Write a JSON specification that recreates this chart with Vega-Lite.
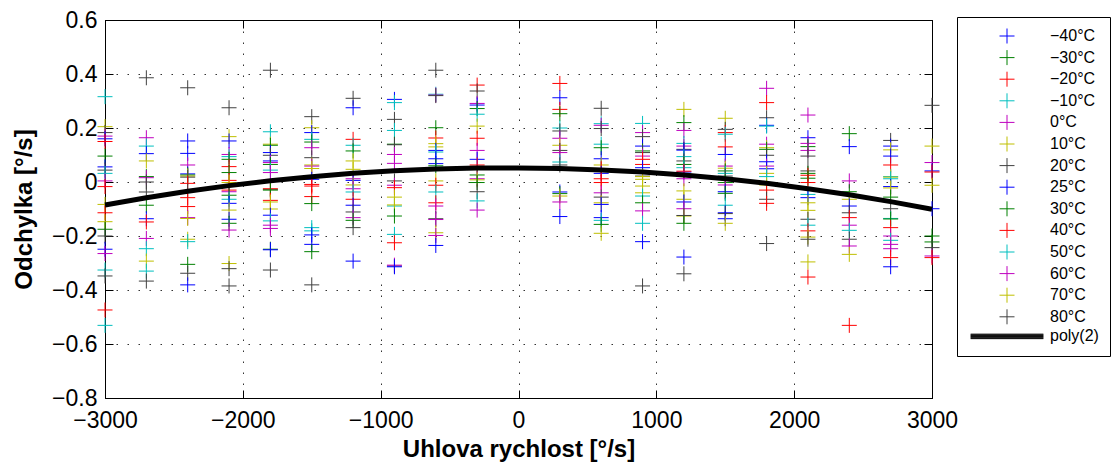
{
"$schema": "https://vega.github.io/schema/vega-lite/v6.json",
"autosize": "none",
"width": 827,
"height": 378,
"padding": {"left": 105, "top": 20, "right": 188, "bottom": 68},
"background": "white",
"config": {
  "view": {"stroke": "black", "strokeWidth": 1},
  "font": "Liberation Sans",
  "axis": {
    "domainColor": "black", "tickColor": "black", "tickSize": -8, "tickWidth": 1,
    "labelFont": "Liberation Sans", "labelFontSize": 23, "labelColor": "black",
    "titleFont": "Liberation Sans", "titleFontSize": 24, "titleFontWeight": "bold", "titleColor": "black",
    "gridColor": "#333333", "gridDash": [1.5, 9.5], "gridWidth": 1, "gridOpacity": 1,
    "labelFlush": false, "labelOverlap": false
  }
},
"datasets": {
  "pts": [
{"x":-3000,"y":0.316,"t":"−10°C"},{"x":-3000,"y":0.205,"t":"10°C"},{"x":-3000,"y":0.183,"t":"20°C"},{"x":-3000,"y":0.17,"t":"0°C"},{"x":-3000,"y":0.16,"t":"−40°C"},{"x":-3000,"y":0.15,"t":"−20°C"},{"x":-3000,"y":0.096,"t":"−30°C"},{"x":-3000,"y":0.056,"t":"25°C"},{"x":-3000,"y":0.044,"t":"80°C"},{"x":-3000,"y":0.032,"t":"50°C"},{"x":-3000,"y":0.004,"t":"60°C"},{"x":-3000,"y":-0.017,"t":"40°C"},{"x":-3000,"y":-0.083,"t":"70°C"},{"x":-3000,"y":-0.114,"t":"−20°C"},{"x":-3000,"y":-0.147,"t":"10°C"},{"x":-3000,"y":-0.175,"t":"30°C"},{"x":-3000,"y":-0.2,"t":"20°C"},{"x":-3000,"y":-0.249,"t":"−40°C"},{"x":-3000,"y":-0.265,"t":"0°C"},{"x":-3000,"y":-0.326,"t":"−10°C"},{"x":-3000,"y":-0.348,"t":"80°C"},{"x":-3000,"y":-0.474,"t":"40°C"},{"x":-3000,"y":-0.531,"t":"50°C"},
{"x":-2700,"y":0.386,"t":"20°C"},{"x":-2700,"y":0.164,"t":"0°C"},{"x":-2700,"y":0.133,"t":"−10°C"},{"x":-2700,"y":0.105,"t":"−40°C"},{"x":-2700,"y":0.078,"t":"10°C"},{"x":-2700,"y":0.02,"t":"−30°C"},{"x":-2700,"y":0.016,"t":"60°C"},{"x":-2700,"y":0.0,"t":"80°C"},{"x":-2700,"y":-0.037,"t":"20°C"},{"x":-2700,"y":-0.086,"t":"30°C"},{"x":-2700,"y":-0.136,"t":"25°C"},{"x":-2700,"y":-0.148,"t":"−20°C"},{"x":-2700,"y":-0.209,"t":"0°C"},{"x":-2700,"y":-0.247,"t":"50°C"},{"x":-2700,"y":-0.293,"t":"70°C"},{"x":-2700,"y":-0.33,"t":"−10°C"},{"x":-2700,"y":-0.367,"t":"80°C"},
{"x":-2400,"y":0.349,"t":"20°C"},{"x":-2400,"y":0.152,"t":"−40°C"},{"x":-2400,"y":0.106,"t":"25°C"},{"x":-2400,"y":0.063,"t":"0°C"},{"x":-2400,"y":0.03,"t":"−40°C"},{"x":-2400,"y":0.026,"t":"−30°C"},{"x":-2400,"y":0.022,"t":"10°C"},{"x":-2400,"y":0.018,"t":"80°C"},{"x":-2400,"y":-0.005,"t":"−20°C"},{"x":-2400,"y":-0.033,"t":"20°C"},{"x":-2400,"y":-0.058,"t":"40°C"},{"x":-2400,"y":-0.091,"t":"−20°C"},{"x":-2400,"y":-0.132,"t":"60°C"},{"x":-2400,"y":-0.135,"t":"70°C"},{"x":-2400,"y":-0.212,"t":"10°C"},{"x":-2400,"y":-0.221,"t":"−10°C"},{"x":-2400,"y":-0.305,"t":"30°C"},{"x":-2400,"y":-0.338,"t":"80°C"},{"x":-2400,"y":-0.381,"t":"25°C"},
{"x":-2100,"y":0.275,"t":"20°C"},{"x":-2100,"y":0.168,"t":"10°C"},{"x":-2100,"y":0.152,"t":"−40°C"},{"x":-2100,"y":0.102,"t":"0°C"},{"x":-2100,"y":0.094,"t":"−10°C"},{"x":-2100,"y":0.084,"t":"−30°C"},{"x":-2100,"y":0.057,"t":"−20°C"},{"x":-2100,"y":0.035,"t":"30°C"},{"x":-2100,"y":0.006,"t":"40°C"},{"x":-2100,"y":-0.002,"t":"70°C"},{"x":-2100,"y":-0.03,"t":"−20°C"},{"x":-2100,"y":-0.036,"t":"60°C"},{"x":-2100,"y":-0.049,"t":"−30°C"},{"x":-2100,"y":-0.064,"t":"50°C"},{"x":-2100,"y":-0.079,"t":"25°C"},{"x":-2100,"y":-0.104,"t":"10°C"},{"x":-2100,"y":-0.138,"t":"−40°C"},{"x":-2100,"y":-0.153,"t":"30°C"},{"x":-2100,"y":-0.178,"t":"0°C"},{"x":-2100,"y":-0.302,"t":"70°C"},{"x":-2100,"y":-0.321,"t":"80°C"},{"x":-2100,"y":-0.385,"t":"20°C"},
{"x":-1800,"y":0.414,"t":"20°C"},{"x":-1800,"y":0.186,"t":"−10°C"},{"x":-1800,"y":0.14,"t":"10°C"},{"x":-1800,"y":0.136,"t":"−30°C"},{"x":-1800,"y":0.109,"t":"−40°C"},{"x":-1800,"y":0.099,"t":"80°C"},{"x":-1800,"y":0.078,"t":"25°C"},{"x":-1800,"y":0.072,"t":"0°C"},{"x":-1800,"y":0.065,"t":"30°C"},{"x":-1800,"y":0.044,"t":"50°C"},{"x":-1800,"y":0.035,"t":"60°C"},{"x":-1800,"y":-0.027,"t":"20°C"},{"x":-1800,"y":-0.025,"t":"−20°C"},{"x":-1800,"y":-0.03,"t":"−30°C"},{"x":-1800,"y":-0.068,"t":"40°C"},{"x":-1800,"y":-0.074,"t":"70°C"},{"x":-1800,"y":-0.1,"t":"10°C"},{"x":-1800,"y":-0.123,"t":"−40°C"},{"x":-1800,"y":-0.144,"t":"−10°C"},{"x":-1800,"y":-0.16,"t":"0°C"},{"x":-1800,"y":-0.172,"t":"60°C"},{"x":-1800,"y":-0.249,"t":"30°C"},{"x":-1800,"y":-0.251,"t":"25°C"},{"x":-1800,"y":-0.326,"t":"80°C"},
{"x":-1500,"y":0.242,"t":"20°C"},{"x":-1500,"y":0.201,"t":"10°C"},{"x":-1500,"y":0.183,"t":"−40°C"},{"x":-1500,"y":0.158,"t":"−10°C"},{"x":-1500,"y":0.148,"t":"−30°C"},{"x":-1500,"y":0.127,"t":"0°C"},{"x":-1500,"y":0.09,"t":"80°C"},{"x":-1500,"y":0.063,"t":"70°C"},{"x":-1500,"y":0.059,"t":"60°C"},{"x":-1500,"y":0.05,"t":"10°C"},{"x":-1500,"y":0.01,"t":"25°C"},{"x":-1500,"y":-0.009,"t":"−20°C"},{"x":-1500,"y":-0.015,"t":"40°C"},{"x":-1500,"y":-0.054,"t":"−20°C"},{"x":-1500,"y":-0.08,"t":"30°C"},{"x":-1500,"y":-0.169,"t":"50°C"},{"x":-1500,"y":-0.181,"t":"−10°C"},{"x":-1500,"y":-0.196,"t":"−40°C"},{"x":-1500,"y":-0.231,"t":"25°C"},{"x":-1500,"y":-0.258,"t":"−30°C"},{"x":-1500,"y":-0.381,"t":"20°C"},
{"x":-1200,"y":0.31,"t":"20°C"},{"x":-1200,"y":0.275,"t":"−40°C"},{"x":-1200,"y":0.158,"t":"−20°C"},{"x":-1200,"y":0.136,"t":"−10°C"},{"x":-1200,"y":0.115,"t":"−30°C"},{"x":-1200,"y":0.078,"t":"10°C"},{"x":-1200,"y":0.047,"t":"70°C"},{"x":-1200,"y":0.012,"t":"0°C"},{"x":-1200,"y":0.006,"t":"25°C"},{"x":-1200,"y":-0.011,"t":"10°C"},{"x":-1200,"y":-0.025,"t":"60°C"},{"x":-1200,"y":-0.037,"t":"50°C"},{"x":-1200,"y":-0.064,"t":"40°C"},{"x":-1200,"y":-0.086,"t":"−40°C"},{"x":-1200,"y":-0.111,"t":"80°C"},{"x":-1200,"y":-0.132,"t":"0°C"},{"x":-1200,"y":-0.142,"t":"30°C"},{"x":-1200,"y":-0.169,"t":"20°C"},{"x":-1200,"y":-0.293,"t":"25°C"},
{"x":-900,"y":0.306,"t":"−40°C"},{"x":-900,"y":0.294,"t":"−10°C"},{"x":-900,"y":0.232,"t":"20°C"},{"x":-900,"y":0.191,"t":"50°C"},{"x":-900,"y":0.14,"t":"−30°C"},{"x":-900,"y":0.138,"t":"80°C"},{"x":-900,"y":0.102,"t":"0°C"},{"x":-900,"y":0.069,"t":"60°C"},{"x":-900,"y":0.004,"t":"20°C"},{"x":-900,"y":-0.012,"t":"0°C"},{"x":-900,"y":-0.021,"t":"−20°C"},{"x":-900,"y":-0.056,"t":"10°C"},{"x":-900,"y":-0.089,"t":"−10°C"},{"x":-900,"y":-0.085,"t":"70°C"},{"x":-900,"y":-0.126,"t":"30°C"},{"x":-900,"y":-0.194,"t":"50°C"},{"x":-900,"y":-0.225,"t":"40°C"},{"x":-900,"y":-0.311,"t":"80°C"},{"x":-900,"y":-0.308,"t":"60°C"},{"x":-900,"y":-0.314,"t":"25°C"},
{"x":-600,"y":0.414,"t":"20°C"},{"x":-600,"y":0.325,"t":"−10°C"},{"x":-600,"y":0.322,"t":"0°C"},{"x":-600,"y":0.32,"t":"80°C"},{"x":-600,"y":0.201,"t":"−30°C"},{"x":-600,"y":0.163,"t":"−20°C"},{"x":-600,"y":0.142,"t":"10°C"},{"x":-600,"y":0.13,"t":"70°C"},{"x":-600,"y":0.117,"t":"−40°C"},{"x":-600,"y":0.111,"t":"50°C"},{"x":-600,"y":0.086,"t":"25°C"},{"x":-600,"y":0.068,"t":"−40°C"},{"x":-600,"y":0.06,"t":"30°C"},{"x":-600,"y":0.004,"t":"10°C"},{"x":-600,"y":-0.012,"t":"40°C"},{"x":-600,"y":-0.037,"t":"−10°C"},{"x":-600,"y":-0.077,"t":"−20°C"},{"x":-600,"y":-0.089,"t":"60°C"},{"x":-600,"y":-0.136,"t":"20°C"},{"x":-600,"y":-0.139,"t":"0°C"},{"x":-600,"y":-0.188,"t":"70°C"},{"x":-600,"y":-0.198,"t":"60°C"},{"x":-600,"y":-0.235,"t":"25°C"},
{"x":-300,"y":0.359,"t":"−20°C"},{"x":-300,"y":0.337,"t":"20°C"},{"x":-300,"y":0.291,"t":"0°C"},{"x":-300,"y":0.285,"t":"−40°C"},{"x":-300,"y":0.272,"t":"−30°C"},{"x":-300,"y":0.251,"t":"−10°C"},{"x":-300,"y":0.207,"t":"10°C"},{"x":-300,"y":0.162,"t":"40°C"},{"x":-300,"y":0.117,"t":"60°C"},{"x":-300,"y":0.084,"t":"25°C"},{"x":-300,"y":0.063,"t":"−20°C"},{"x":-300,"y":0.026,"t":"30°C"},{"x":-300,"y":0.012,"t":"0°C"},{"x":-300,"y":0.008,"t":"70°C"},{"x":-300,"y":-0.002,"t":"−30°C"},{"x":-300,"y":-0.036,"t":"80°C"},{"x":-300,"y":-0.07,"t":"50°C"},{"x":-300,"y":-0.104,"t":"60°C"},
{"x":300,"y":0.365,"t":"−20°C"},{"x":300,"y":0.312,"t":"−40°C"},{"x":300,"y":0.269,"t":"40°C"},{"x":300,"y":0.253,"t":"−30°C"},{"x":300,"y":0.2,"t":"−10°C"},{"x":300,"y":0.189,"t":"20°C"},{"x":300,"y":0.162,"t":"0°C"},{"x":300,"y":0.136,"t":"10°C"},{"x":300,"y":0.117,"t":"80°C"},{"x":300,"y":0.109,"t":"60°C"},{"x":300,"y":0.074,"t":"50°C"},{"x":300,"y":0.063,"t":"20°C"},{"x":300,"y":-0.037,"t":"25°C"},{"x":300,"y":-0.043,"t":"30°C"},{"x":300,"y":-0.052,"t":"70°C"},{"x":300,"y":-0.074,"t":"0°C"},{"x":300,"y":-0.128,"t":"−40°C"},
{"x":600,"y":0.273,"t":"20°C"},{"x":600,"y":0.216,"t":"−10°C"},{"x":600,"y":0.21,"t":"0°C"},{"x":600,"y":0.198,"t":"80°C"},{"x":600,"y":0.14,"t":"50°C"},{"x":600,"y":0.127,"t":"−30°C"},{"x":600,"y":0.086,"t":"−40°C"},{"x":600,"y":0.063,"t":"10°C"},{"x":600,"y":0.049,"t":"−20°C"},{"x":600,"y":0.032,"t":"25°C"},{"x":600,"y":0.012,"t":"40°C"},{"x":600,"y":-0.002,"t":"−20°C"},{"x":600,"y":-0.04,"t":"60°C"},{"x":600,"y":-0.056,"t":"20°C"},{"x":600,"y":-0.077,"t":"70°C"},{"x":600,"y":-0.083,"t":"−40°C"},{"x":600,"y":-0.132,"t":"25°C"},{"x":600,"y":-0.142,"t":"−10°C"},{"x":600,"y":-0.157,"t":"30°C"},{"x":600,"y":-0.19,"t":"10°C"},
{"x":900,"y":0.217,"t":"−10°C"},{"x":900,"y":0.183,"t":"0°C"},{"x":900,"y":0.168,"t":"20°C"},{"x":900,"y":0.133,"t":"−40°C"},{"x":900,"y":0.115,"t":"−30°C"},{"x":900,"y":0.109,"t":"80°C"},{"x":900,"y":0.096,"t":"60°C"},{"x":900,"y":0.084,"t":"−20°C"},{"x":900,"y":0.065,"t":"40°C"},{"x":900,"y":0.053,"t":"25°C"},{"x":900,"y":0.022,"t":"20°C"},{"x":900,"y":0.02,"t":"10°C"},{"x":900,"y":0.01,"t":"70°C"},{"x":900,"y":-0.015,"t":"10°C"},{"x":900,"y":-0.04,"t":"70°C"},{"x":900,"y":-0.052,"t":"50°C"},{"x":900,"y":-0.077,"t":"30°C"},{"x":900,"y":-0.107,"t":"0°C"},{"x":900,"y":-0.153,"t":"−10°C"},{"x":900,"y":-0.221,"t":"−40°C"},{"x":900,"y":-0.385,"t":"80°C"},
{"x":1200,"y":0.269,"t":"10°C"},{"x":1200,"y":0.22,"t":"−30°C"},{"x":1200,"y":0.191,"t":"0°C"},{"x":1200,"y":0.143,"t":"−10°C"},{"x":1200,"y":0.133,"t":"60°C"},{"x":1200,"y":0.121,"t":"20°C"},{"x":1200,"y":0.118,"t":"−40°C"},{"x":1200,"y":0.094,"t":"50°C"},{"x":1200,"y":0.078,"t":"80°C"},{"x":1200,"y":0.065,"t":"30°C"},{"x":1200,"y":0.053,"t":"−10°C"},{"x":1200,"y":0.037,"t":"25°C"},{"x":1200,"y":0.04,"t":"−20°C"},{"x":1200,"y":0.012,"t":"0°C"},{"x":1200,"y":-0.033,"t":"70°C"},{"x":1200,"y":-0.064,"t":"10°C"},{"x":1200,"y":-0.074,"t":"−40°C"},{"x":1200,"y":-0.099,"t":"60°C"},{"x":1200,"y":-0.126,"t":"70°C"},{"x":1200,"y":-0.124,"t":"20°C"},{"x":1200,"y":-0.153,"t":"−30°C"},{"x":1200,"y":-0.278,"t":"25°C"},{"x":1200,"y":-0.34,"t":"80°C"},
{"x":1500,"y":0.236,"t":"10°C"},{"x":1500,"y":0.195,"t":"20°C"},{"x":1500,"y":0.183,"t":"−20°C"},{"x":1500,"y":0.177,"t":"−10°C"},{"x":1500,"y":0.13,"t":"40°C"},{"x":1500,"y":0.102,"t":"−40°C"},{"x":1500,"y":0.059,"t":"0°C"},{"x":1500,"y":0.051,"t":"70°C"},{"x":1500,"y":0.041,"t":"−30°C"},{"x":1500,"y":0.032,"t":"50°C"},{"x":1500,"y":0.022,"t":"80°C"},{"x":1500,"y":-0.002,"t":"30°C"},{"x":1500,"y":-0.011,"t":"60°C"},{"x":1500,"y":-0.036,"t":"25°C"},{"x":1500,"y":-0.042,"t":"−30°C"},{"x":1500,"y":-0.086,"t":"−10°C"},{"x":1500,"y":-0.114,"t":"−40°C"},{"x":1500,"y":-0.117,"t":"20°C"},{"x":1500,"y":-0.136,"t":"25°C"},{"x":1500,"y":-0.153,"t":"10°C"},
{"x":1800,"y":0.347,"t":"0°C"},{"x":1800,"y":0.294,"t":"−20°C"},{"x":1800,"y":0.238,"t":"20°C"},{"x":1800,"y":0.21,"t":"−40°C"},{"x":1800,"y":0.207,"t":"−10°C"},{"x":1800,"y":0.14,"t":"60°C"},{"x":1800,"y":0.127,"t":"10°C"},{"x":1800,"y":0.121,"t":"−30°C"},{"x":1800,"y":0.099,"t":"80°C"},{"x":1800,"y":0.075,"t":"25°C"},{"x":1800,"y":0.059,"t":"0°C"},{"x":1800,"y":0.049,"t":"−40°C"},{"x":1800,"y":0.032,"t":"70°C"},{"x":1800,"y":0.02,"t":"50°C"},{"x":1800,"y":-0.011,"t":"10°C"},{"x":1800,"y":-0.03,"t":"40°C"},{"x":1800,"y":-0.064,"t":"20°C"},{"x":1800,"y":-0.079,"t":"−20°C"},{"x":1800,"y":-0.228,"t":"80°C"},
{"x":2100,"y":0.248,"t":"0°C"},{"x":2100,"y":0.164,"t":"−40°C"},{"x":2100,"y":0.143,"t":"60°C"},{"x":2100,"y":0.131,"t":"−30°C"},{"x":2100,"y":0.117,"t":"0°C"},{"x":2100,"y":0.096,"t":"20°C"},{"x":2100,"y":0.041,"t":"80°C"},{"x":2100,"y":0.032,"t":"30°C"},{"x":2100,"y":0.025,"t":"−20°C"},{"x":2100,"y":0.014,"t":"−30°C"},{"x":2100,"y":-0.002,"t":"40°C"},{"x":2100,"y":-0.046,"t":"−10°C"},{"x":2100,"y":-0.058,"t":"25°C"},{"x":2100,"y":-0.077,"t":"10°C"},{"x":2100,"y":-0.105,"t":"70°C"},{"x":2100,"y":-0.138,"t":"20°C"},{"x":2100,"y":-0.16,"t":"50°C"},{"x":2100,"y":-0.181,"t":"−20°C"},{"x":2100,"y":-0.204,"t":"10°C"},{"x":2100,"y":-0.212,"t":"80°C"},{"x":2100,"y":-0.296,"t":"70°C"},{"x":2100,"y":-0.352,"t":"40°C"},
{"x":2400,"y":0.179,"t":"−30°C"},{"x":2400,"y":0.131,"t":"−40°C"},{"x":2400,"y":0.004,"t":"0°C"},{"x":2400,"y":-0.036,"t":"30°C"},{"x":2400,"y":-0.064,"t":"10°C"},{"x":2400,"y":-0.089,"t":"25°C"},{"x":2400,"y":-0.114,"t":"20°C"},{"x":2400,"y":-0.132,"t":"−20°C"},{"x":2400,"y":-0.16,"t":"60°C"},{"x":2400,"y":-0.179,"t":"−10°C"},{"x":2400,"y":-0.212,"t":"80°C"},{"x":2400,"y":-0.237,"t":"0°C"},{"x":2400,"y":-0.268,"t":"70°C"},{"x":2400,"y":-0.531,"t":"40°C"},
{"x":2700,"y":0.154,"t":"20°C"},{"x":2700,"y":0.133,"t":"−40°C"},{"x":2700,"y":0.119,"t":"10°C"},{"x":2700,"y":0.096,"t":"25°C"},{"x":2700,"y":0.063,"t":"−20°C"},{"x":2700,"y":0.02,"t":"−10°C"},{"x":2700,"y":0.018,"t":"70°C"},{"x":2700,"y":0.012,"t":"50°C"},{"x":2700,"y":-0.017,"t":"−40°C"},{"x":2700,"y":-0.022,"t":"10°C"},{"x":2700,"y":-0.056,"t":"−30°C"},{"x":2700,"y":-0.099,"t":"80°C"},{"x":2700,"y":-0.135,"t":"−10°C"},{"x":2700,"y":-0.137,"t":"30°C"},{"x":2700,"y":-0.169,"t":"40°C"},{"x":2700,"y":-0.2,"t":"0°C"},{"x":2700,"y":-0.216,"t":"50°C"},{"x":2700,"y":-0.231,"t":"60°C"},{"x":2700,"y":-0.247,"t":"0°C"},{"x":2700,"y":-0.28,"t":"−20°C"},{"x":2700,"y":-0.314,"t":"25°C"},
{"x":3000,"y":0.284,"t":"20°C"},{"x":3000,"y":0.133,"t":"10°C"},{"x":3000,"y":0.072,"t":"0°C"},{"x":3000,"y":0.041,"t":"−40°C"},{"x":3000,"y":0.037,"t":"−20°C"},{"x":3000,"y":-0.012,"t":"70°C"},{"x":3000,"y":-0.099,"t":"25°C"},{"x":3000,"y":-0.2,"t":"−30°C"},{"x":3000,"y":-0.222,"t":"30°C"},{"x":3000,"y":-0.243,"t":"80°C"},{"x":3000,"y":-0.274,"t":"60°C"},{"x":3000,"y":-0.28,"t":"40°C"}
  ],
  "poly": [
{"x":-3000,"y":-0.085},{"x":-2700,"y":-0.0582},{"x":-2400,"y":-0.0344},{"x":-2100,"y":-0.0134},{"x":-1800,"y":0.0046},{"x":-1500,"y":0.0198},{"x":-1200,"y":0.032},{"x":-900,"y":0.0414},{"x":-600,"y":0.0478},{"x":-300,"y":0.0514},{"x":0,"y":0.052},{"x":300,"y":0.0498},{"x":600,"y":0.0446},{"x":900,"y":0.0366},{"x":1200,"y":0.0256},{"x":1500,"y":0.0118},{"x":1800,"y":-0.005},{"x":2100,"y":-0.0247},{"x":2400,"y":-0.0472},{"x":2700,"y":-0.0727},{"x":3000,"y":-0.101}
  ]
},
"layer": [
  {
    "data": {"name": "pts"},
    "mark": {"type": "point", "filled": false, "strokeWidth": 1, "size": 225, "opacity": 1},
    "encoding": {
      "x": {"field": "x", "type": "quantitative",
        "scale": {"domain": [-3000, 3000], "nice": false, "zero": false},
        "axis": {"orient": "bottom", "values": [-3000, -2000, -1000, 0, 1000, 2000, 3000], "format": "d",
          "title": "Uhlova rychlost [°/s]", "grid": true, "labelPadding": 19, "titlePadding": 5,
          "encode": {"labels": {"update": {"dx": {"signal": "datum.value < 0 ? -7 : 0"}}}}}},
      "y": {"field": "y", "type": "quantitative",
        "scale": {"domain": [-0.8, 0.6], "nice": false, "zero": false},
        "axis": {"orient": "left", "values": [-0.8, -0.6, -0.4, -0.2, 0, 0.2, 0.4, 0.6],
          "labelExpr": "datum.value === 0 ? '0' : format(datum.value, '.1f')",
          "title": "Odchylka [°/s]", "grid": true, "labelPadding": 16, "titlePadding": 15}},
      "color": {"field": "t", "type": "nominal",
        "scale": {
          "domain": ["−40°C", "−30°C", "−20°C", "−10°C", "0°C", "10°C", "20°C", "25°C", "30°C", "40°C", "50°C", "60°C", "70°C", "80°C", "poly(2)"],
          "range": ["#0000ff", "#008000", "#ff0000", "#00bfbf", "#bf00bf", "#bfbf00", "#404040", "#0000ff", "#008000", "#ff0000", "#00bfbf", "#bf00bf", "#bfbf00", "#404040", "#000000"]},
        "legend": {"orient": "none", "legendX": 852, "legendY": -3, "title": null,
          "padding": 11, "strokeColor": "black", "fillColor": "white", "cornerRadius": 0,
          "labelFont": "Liberation Sans", "labelFontSize": 16, "labelColor": "black", "labelLimit": 0,
          "symbolOffset": 31, "labelOffset": 35, "rowPadding": 1.6, "symbolSize": 225, "symbolStrokeWidth": 1, "symbolOpacity": 1, "symbolLimit": 0}},
      "shape": {"field": "t", "type": "nominal",
        "scale": {
          "domain": ["−40°C", "−30°C", "−20°C", "−10°C", "0°C", "10°C", "20°C", "25°C", "30°C", "40°C", "50°C", "60°C", "70°C", "80°C", "poly(2)"],
          "range": ["M-1,0H1M0,-1V1", "M-1,0H1M0,-1V1", "M-1,0H1M0,-1V1", "M-1,0H1M0,-1V1", "M-1,0H1M0,-1V1", "M-1,0H1M0,-1V1", "M-1,0H1M0,-1V1", "M-1,0H1M0,-1V1", "M-1,0H1M0,-1V1", "M-1,0H1M0,-1V1", "M-1,0H1M0,-1V1", "M-1,0H1M0,-1V1", "M-1,0H1M0,-1V1", "M-1,0H1M0,-1V1",
            "M-4.85,-0.3H4.85M-4.85,-0.2H4.85M-4.85,-0.1H4.85M-4.85,0H4.85M-4.85,0.1H4.85M-4.85,0.2H4.85M-4.85,0.3H4.85"]},
        "legend": null}
    }
  },
  {
    "data": {"name": "poly"},
    "mark": {"type": "line", "color": "black", "strokeWidth": 5},
    "encoding": {
      "x": {"field": "x", "type": "quantitative",
        "axis": {"orient": "top", "values": [-3000, -2000, -1000, 0, 1000, 2000, 3000], "labels": false, "title": null, "grid": false}},
      "y": {"field": "y", "type": "quantitative",
        "axis": {"orient": "right", "values": [-0.8, -0.6, -0.4, -0.2, 0, 0.2, 0.4, 0.6], "labels": false, "title": null, "grid": false}}
    }
  }
],
"resolve": {"axis": {"x": "independent", "y": "independent"}}
}
